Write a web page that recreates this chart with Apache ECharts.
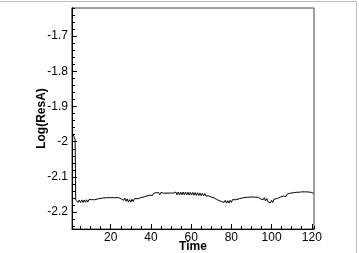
<!DOCTYPE html>
<html>
<head>
<meta charset="utf-8">
<script src="https://cdn.jsdelivr.net/npm/echarts@6/dist/echarts.min.js"></script>
<style>
  html, body { margin: 0; padding: 0; background: #fff; }
  #chart { width: 359px; height: 253px; }
</style>
</head>
<body>
<div id="chart"></div>
<script>
// residual history
const times = [
  0.85, 1.0, 1.7, 2.3, 2.6,
  3.2, 3.8, 4.4, 5.0, 5.6, 6.2, 6.8, 7.4, 8.0, 8.6, 9.2, 9.8, 10.4,
  12, 14, 16, 18, 20, 22, 24,
  24.6, 25.2, 25.8, 26.4, 27.0, 27.6, 28.2, 28.8, 29.4, 30.0, 30.6, 31.2, 31.8, 32.4,
  33.5, 35, 36.5, 38, 39.5,
  40.2, 40.8, 41.4, 42.0, 42.6, 43.2, 43.8, 44.4, 45.0,
  45.6, 46.4, 47.2, 48.0, 48.8, 49.6, 50.4, 51.2,
  51.8, 52.4, 53.0, 53.6, 54.2, 54.8, 55.4, 56.0, 56.6, 57.2, 57.8, 58.4, 59.0, 59.6,
  60.2, 60.8, 61.4, 62.0, 62.6, 63.2, 63.8, 64.4, 65.0, 65.6, 66.2, 66.8, 67.4,
  68.5, 70, 71.5,
  72.2, 72.8, 73.4, 74.0, 74.6, 75.2, 75.8, 76.4, 77.0, 77.6, 78.2, 78.8, 79.4, 80.0, 80.6,
  82, 84, 86, 88, 90, 92, 93.4,
  94.0, 94.6, 95.2, 95.8, 96.4, 97.0, 97.6, 98.2, 98.8, 99.4, 100.0, 100.6, 101.2, 101.8,
  103, 104.5, 106,
  106.6, 107.2, 107.8, 108.4, 109.0, 109.6, 110.2, 110.8, 111.4, 112.0, 112.6, 113.2, 113.8,
  114.4, 115.0, 115.6, 116.2, 116.8, 117.4, 118.0, 118.6, 119.2, 119.8, 120.4, 121.0
];
const logRes = [
  -1.60, -1.975, -1.985, -1.995, -2.166,
  -2.1655, -2.1725, -2.1655, -2.1725, -2.1655, -2.1725, -2.1655, -2.172, -2.165, -2.1715, -2.1645, -2.170, -2.1645,
  -2.165, -2.162, -2.160, -2.159, -2.159, -2.159, -2.159,
  -2.1585, -2.1625, -2.1585, -2.1665, -2.160, -2.169, -2.1625, -2.1715, -2.1645, -2.1715, -2.1635, -2.170, -2.1615, -2.166,
  -2.162, -2.159, -2.157, -2.154, -2.152,
  -2.147, -2.1525, -2.1465, -2.152, -2.145, -2.1505, -2.1445, -2.1505, -2.144,
  -2.148, -2.1465, -2.1475, -2.146, -2.1475, -2.146, -2.1475, -2.146,
  -2.1505, -2.143, -2.151, -2.143, -2.151, -2.143, -2.151, -2.143, -2.151, -2.143, -2.151, -2.1435, -2.1515, -2.1435,
  -2.1515, -2.144, -2.152, -2.1445, -2.1525, -2.145, -2.153, -2.1455, -2.1535, -2.1465, -2.154, -2.1475, -2.1545,
  -2.1535, -2.157, -2.160,
  -2.1575, -2.1645, -2.159, -2.1675, -2.162, -2.170, -2.1645, -2.1725, -2.1665, -2.1745, -2.1675, -2.1745, -2.1665, -2.1725, -2.1645,
  -2.165, -2.162, -2.159, -2.158, -2.157, -2.1575, -2.158,
  -2.1555, -2.1625, -2.157, -2.165, -2.159, -2.168, -2.1615, -2.1705, -2.165, -2.1735, -2.1665, -2.1725, -2.1635, -2.1685,
  -2.161, -2.157, -2.1545,
  -2.151, -2.1555, -2.1485, -2.153, -2.1465, -2.1515, -2.1455, -2.150, -2.1445, -2.149, -2.1435, -2.1485, -2.1435,
  -2.148, -2.1425, -2.1475, -2.1425, -2.1475, -2.1425, -2.1475, -2.143, -2.1475, -2.144, -2.148, -2.147
];
const xRange = [0.75, 121.1];
const yRange = [-2.248, -1.62];

const font = 'Liberation Sans, Arial, Helvetica, sans-serif';
const chart = echarts.init(document.getElementById('chart'));

const majorX = {
  type: 'value', min: xRange[0], max: xRange[1], position: 'bottom', splitNumber: 6,
  axisLine: { lineStyle: { color: '#000', width: 1 } },
  axisTick: { inside: true, length: 5, lineStyle: { color: '#000' } },
  axisLabel: { margin: 3, fontSize: 12, color: '#000', fontFamily: font, showMinLabel: false, showMaxLabel: false },
  splitLine: { show: false },
  name: 'Time', nameLocation: 'middle', nameGap: 12, nameMoveOverlap: false,
  nameTextStyle: { fontSize: 12, fontWeight: 'bold', color: '#000', fontFamily: font }
};
const minorX = {
  type: 'value', min: xRange[0], max: xRange[1], position: 'bottom', splitNumber: 24,
  axisLine: { show: false },
  axisTick: { inside: true, length: 3, lineStyle: { color: '#000' } },
  axisLabel: { show: false },
  splitLine: { show: false }
};
const majorY = {
  type: 'value', min: yRange[0], max: yRange[1], position: 'left', splitNumber: 6,
  axisLine: { lineStyle: { color: '#000', width: 1 } },
  axisTick: { inside: true, length: 5, lineStyle: { color: '#000' } },
  axisLabel: { margin: 4, fontSize: 12, color: '#000', fontFamily: font, showMinLabel: false, showMaxLabel: false },
  splitLine: { show: false },
  name: 'Log(ResA)', nameLocation: 'middle', nameGap: 24, nameMoveOverlap: false,
  nameTextStyle: { fontSize: 12, fontWeight: 'bold', color: '#000', fontFamily: font }
};
const minorY = {
  type: 'value', min: yRange[0], max: yRange[1], position: 'left', splitNumber: 31,
  axisLine: { show: false },
  axisTick: { inside: true, length: 3, lineStyle: { color: '#000' } },
  axisLabel: { show: false },
  splitLine: { show: false }
};

chart.setOption({
  animation: false,
  backgroundColor: '#fff',
  grid: {
    left: 72, right: 45, top: 8, bottom: 24, outerBoundsMode: 'none',
    show: true, borderColor: '#444', borderWidth: 1
  },
  xAxis: [majorX, minorX],
  yAxis: [majorY, minorY],
  graphic: [
    { type: 'line', shape: { x1: 0, y1: 1.5, x2: 356.5, y2: 1.5 }, style: { stroke: '#bbb', lineWidth: 1 } },
    { type: 'line', shape: { x1: 356.5, y1: 1.5, x2: 356.5, y2: 253 }, style: { stroke: '#bbb', lineWidth: 1 } }
  ],
  series: [{
    type: 'line',
    xAxisIndex: 0, yAxisIndex: 0,
    data: times.map((t, i) => [t, logRes[i]]),
    showSymbol: false,
    lineStyle: { color: '#000', width: 1 }
  }]
});
</script>
</body>
</html>
